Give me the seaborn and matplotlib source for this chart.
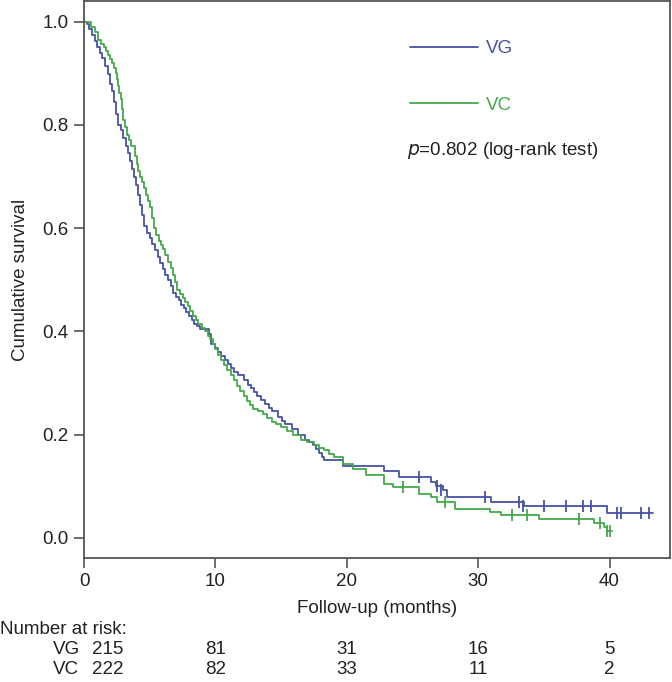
import matplotlib
matplotlib.use('Agg')
import matplotlib.pyplot as plt
import matplotlib.transforms as mtransforms
from matplotlib.lines import Line2D
import pandas as pd
import seaborn as sns

# Kaplan-Meier steps (time in months, survival)
vg_time = [0, 0.2, 0.4, 0.6, 0.8, 1.0, 1.2, 1.4, 1.6, 1.8, 2.0, 2.15, 2.3, 2.45, 2.6, 2.8,
           3.0, 3.2, 3.35, 3.5, 3.65, 3.8, 3.95, 4.1, 4.25, 4.4, 4.6, 4.8, 5.0, 5.2, 5.4,
           5.6, 5.8, 6.0, 6.2, 6.4, 6.6, 6.8, 7.0, 7.2, 7.4, 7.6, 7.8, 8.0, 8.2, 8.4, 8.6,
           8.8, 9.5, 9.7, 10.0, 10.2, 10.45, 10.7, 10.95, 11.2, 11.45, 11.7, 12.2, 12.45,
           12.7, 12.95, 13.2, 13.5, 13.8, 14.05, 14.3, 14.8, 15.05, 15.3, 15.8, 16.3, 16.8,
           17.1, 17.4, 17.65, 17.9, 18.1, 18.3, 19.7, 22.8, 24.0, 26.4, 26.8, 27.3, 27.6,
           31.0, 33.5, 39.8, 43.3]
vg_surv = [1.0, 0.995, 0.985, 0.975, 0.962, 0.95, 0.94, 0.93, 0.915, 0.898, 0.88, 0.865,
           0.845, 0.822, 0.80, 0.79, 0.775, 0.76, 0.745, 0.73, 0.715, 0.70, 0.683, 0.665,
           0.645, 0.625, 0.605, 0.59, 0.58, 0.57, 0.558, 0.545, 0.532, 0.52, 0.51, 0.50,
           0.487, 0.475, 0.467, 0.46, 0.452, 0.445, 0.437, 0.43, 0.422, 0.415, 0.41, 0.405,
           0.395, 0.375, 0.368, 0.36, 0.352, 0.345, 0.337, 0.33, 0.322, 0.315, 0.305, 0.297,
           0.29, 0.282, 0.275, 0.267, 0.26, 0.252, 0.245, 0.235, 0.227, 0.22, 0.21, 0.20,
           0.19, 0.185, 0.18, 0.172, 0.165, 0.157, 0.15, 0.14, 0.13, 0.117, 0.108, 0.101,
           0.092, 0.079, 0.069, 0.061, 0.048, 0.048]

vc_time = [0, 0.5, 0.8, 1.1, 1.3, 1.5, 1.65, 1.8, 1.95, 2.1, 2.25, 2.4, 2.5, 2.6, 2.7, 2.8,
           2.9, 3.0, 3.15, 3.3, 3.45, 3.6, 3.9, 4.0, 4.1, 4.25, 4.4, 4.55, 4.7, 4.85, 5.0,
           5.15, 5.3, 5.5, 5.7, 5.85, 6.0, 6.2, 6.4, 6.6, 6.8, 6.95, 7.1, 7.3, 7.5, 7.7,
           7.9, 8.1, 8.3, 8.5, 8.7, 8.95, 9.2, 9.4, 9.6, 9.8, 10.0, 10.2, 10.4, 10.65, 10.9,
           11.15, 11.4, 11.65, 11.9, 12.15, 12.4, 12.65, 12.9, 13.25, 13.6, 13.95, 14.3,
           14.65, 15.0, 15.45, 15.9, 16.5, 17.0, 17.5, 17.9, 18.3, 18.65, 19.0, 19.7, 20.5,
           21.5, 22.8, 23.5, 25.5, 26.4, 26.9, 28.2, 30.9, 31.7, 34.6, 38.8, 39.6, 39.8,
           40.2]
vc_surv = [1.0, 0.99, 0.98, 0.965, 0.957, 0.95, 0.943, 0.935, 0.927, 0.92, 0.91, 0.90,
           0.888, 0.875, 0.862, 0.85, 0.83, 0.81, 0.795, 0.78, 0.77, 0.76, 0.74, 0.725,
           0.71, 0.70, 0.69, 0.677, 0.665, 0.652, 0.64, 0.62, 0.60, 0.587, 0.575, 0.567,
           0.56, 0.547, 0.535, 0.522, 0.51, 0.495, 0.48, 0.472, 0.465, 0.457, 0.45, 0.44,
           0.43, 0.422, 0.415, 0.407, 0.40, 0.392, 0.385, 0.375, 0.365, 0.355, 0.345, 0.335,
           0.325, 0.315, 0.305, 0.295, 0.285, 0.275, 0.265, 0.257, 0.25, 0.245, 0.24, 0.232,
           0.225, 0.22, 0.215, 0.207, 0.20, 0.19, 0.185, 0.18, 0.175, 0.17, 0.163, 0.157,
           0.143, 0.133, 0.121, 0.104, 0.098, 0.085, 0.079, 0.069, 0.056, 0.050, 0.044,
           0.037, 0.029, 0.021, 0.013, 0.013]

# censored observations
vg_cens_t = [25.5, 26.9, 27.2, 30.5, 33.1, 33.4, 35.0, 36.7, 38.0, 38.6, 40.6, 40.9, 42.4, 43.0]
vg_cens_s = [0.117, 0.101, 0.092, 0.079, 0.069, 0.061, 0.061, 0.061, 0.061, 0.061,
             0.048, 0.048, 0.048, 0.048]
vc_cens_t = [24.3, 27.5, 32.6, 33.7, 37.7, 39.3, 39.8, 40.0]
vc_cens_s = [0.098, 0.069, 0.044, 0.044, 0.037, 0.029, 0.013, 0.013]

risk_times = [0, 10, 20, 30, 40]
vg_risk = [215, 81, 31, 16, 5]
vc_risk = [222, 82, 33, 11, 2]

blue = '#4852a4'
green = '#45a84b'
axis_col = '#555555'
txt = '#222222'
fs = 13.5

sns.set_style('ticks')
plt.rcParams['font.family'] = ['Liberation Sans', 'DejaVu Sans']

fig = plt.figure(figsize=(6.72, 6.82), dpi=100)
ax = fig.add_axes([84 / 672, 1 - 558 / 682, 586 / 672, 557 / 682])

vg = pd.DataFrame({'t': vg_time, 's': vg_surv})
vc = pd.DataFrame({'t': vc_time, 's': vc_surv})
sns.lineplot(data=vg, x='t', y='s', ax=ax, color=blue, lw=1.3, drawstyle='steps-post')
sns.lineplot(data=vc, x='t', y='s', ax=ax, color=green, lw=1.3, drawstyle='steps-post')
sns.scatterplot(x=vg_cens_t, y=vg_cens_s, ax=ax, marker='|', s=70, color=blue, linewidth=1.3)
sns.scatterplot(x=vc_cens_t, y=vc_cens_s, ax=ax, marker='|', s=70, color=green, linewidth=1.3)

ax.set_xlim(0, 44.6)
ax.set_ylim(-0.039, 1.04)
ax.set_xticks(risk_times)
ax.set_yticks([0.0, 0.2, 0.4, 0.6, 0.8, 1.0])
ax.set_yticklabels(['0.0', '0.2', '0.4', '0.6', '0.8', '1.0'])
ax.tick_params(axis='both', labelsize=fs, length=7, width=1.2, color=axis_col,
               labelcolor=txt, pad=4)
for sp in ax.spines.values():
    sp.set_color(axis_col)
    sp.set_linewidth(1.3)
ax.set_xlabel('Follow-up (months)', fontsize=fs, color=txt, labelpad=7)
ax.set_ylabel('Cumulative survival', fontsize=fs, color=txt, labelpad=10)

handles = [Line2D([0], [0], color=blue, lw=1.3), Line2D([0], [0], color=green, lw=1.3)]
ax.legend(handles, ['VG', 'VC'], loc='upper left', bbox_to_anchor=(0.528, 0.96),
          frameon=False, fontsize=fs, handlelength=3.6, handletextpad=0.45,
          labelspacing=2.1, labelcolor='linecolor')
ax.text(0.552, 0.732, r'$p$=0.802 (log-rank test)', transform=ax.transAxes, fontsize=fs,
        color=txt, va='center', ha='left')

# number at risk table
trans = mtransforms.blended_transform_factory(ax.transData, fig.transFigure)
fig.text(0.0, 1 - 630 / 682, 'Number at risk:', fontsize=fs, color=txt, va='center')
fig.text(53 / 672, 1 - 649 / 682, 'VG', fontsize=fs, color=txt, va='center')
fig.text(53 / 672, 1 - 670 / 682, 'VC', fontsize=fs, color=txt, va='center')
for i, t in enumerate(risk_times):
    xt = 1.8 if t == 0 else t
    ax.text(xt, 1 - 649 / 682, str(vg_risk[i]), transform=trans, fontsize=fs,
            color=txt, ha='center', va='center')
    ax.text(xt, 1 - 670 / 682, str(vc_risk[i]), transform=trans, fontsize=fs,
            color=txt, ha='center', va='center')

fig.savefig('out.png', dpi=100)
